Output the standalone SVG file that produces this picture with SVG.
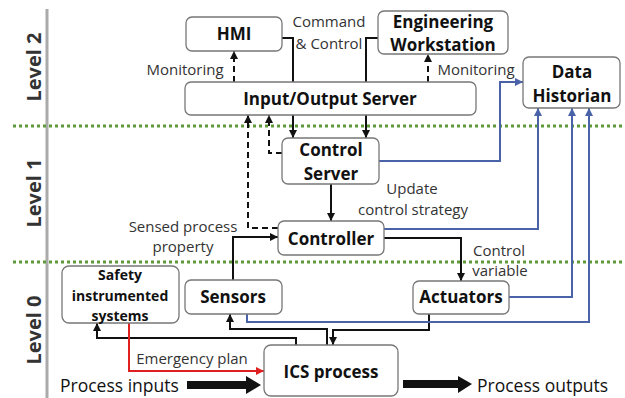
<svg xmlns="http://www.w3.org/2000/svg" width="625" height="398" viewBox="0 0 625 398">
<style>
.box{fill:#fff;stroke:#777;stroke-width:1.3}
.nl{font-family:"Open Sans","Noto Sans",sans-serif;font-weight:bold;font-size:17px;fill:#111;text-anchor:middle}
.sl{font-family:"Open Sans","Noto Sans",sans-serif;font-weight:bold;font-size:14px;fill:#111;text-anchor:middle}
.lb{font-family:"Open Sans","Noto Sans",sans-serif;font-size:15px;fill:#333;text-anchor:middle}
.big{font-family:"Open Sans","Noto Sans",sans-serif;font-size:17.5px;fill:#111}
.lv{font-family:"Open Sans","Noto Sans",sans-serif;font-weight:bold;font-size:20px;fill:#333;text-anchor:middle}
.k{fill:none;stroke:#111;stroke-width:2}
.kd{fill:none;stroke:#111;stroke-width:2;stroke-dasharray:6 4}
.b{fill:none;stroke:#4a62a8;stroke-width:2}
.r{fill:none;stroke:#e02020;stroke-width:2}
.grid{stroke:#5f9a3a;stroke-width:3;stroke-dasharray:3 3}
</style>
<defs>
<marker id="ak" viewBox="0 0 8 8" refX="8" refY="4" markerWidth="8" markerHeight="8" orient="auto" markerUnits="userSpaceOnUse"><path d="M0,0 L8,4 L0,8 z" fill="#111"/></marker>
<marker id="ab" viewBox="0 0 8 8" refX="8" refY="4" markerWidth="8" markerHeight="8" orient="auto" markerUnits="userSpaceOnUse"><path d="M0,0 L8,4 L0,8 z" fill="#4a62a8"/></marker>
<marker id="ar" viewBox="0 0 8 8" refX="8" refY="4" markerWidth="8" markerHeight="8" orient="auto" markerUnits="userSpaceOnUse"><path d="M0,0 L8,4 L0,8 z" fill="#e02020"/></marker>
</defs>
<rect width="625" height="398" fill="#fff"/>
<g id="levels">
<line x1="47" y1="9" x2="47" y2="398" stroke="#aaa" stroke-width="3"/>
<line class="grid" x1="13" y1="126" x2="625" y2="126"/>
<line class="grid" x1="13" y1="262" x2="625" y2="262"/>
<text class="lv" transform="translate(41,67) rotate(-90)">Level 2</text>
<text class="lv" transform="translate(41,193) rotate(-90)">Level 1</text>
<text class="lv" transform="translate(41,330) rotate(-90)">Level 0</text>
</g>
<g id="connectors">
<path class="k" d="M282,38 H293 V82"/>
<path class="k" d="M293,115 V138" marker-end="url(#ak)"/>
<path class="k" d="M378,38 H366 V82"/>
<path class="k" d="M366,115 V138" marker-end="url(#ak)"/>
<path class="kd" d="M234,82 V51" marker-end="url(#ak)"/>
<path class="kd" d="M428,82 V54" marker-end="url(#ak)"/>
<path class="kd" d="M282,153 H269 V115" marker-end="url(#ak)"/>
<path class="kd" d="M278,228 H248 V115" marker-end="url(#ak)"/>
<path class="k" d="M331,184 V221" marker-end="url(#ak)"/>
<path class="k" d="M233,280 V237 H278" marker-end="url(#ak)"/>
<path class="k" d="M384,238 H461 V281" marker-end="url(#ak)"/>
<path class="k" d="M296,345 V338 H97 V323" marker-end="url(#ak)"/>
<path class="k" d="M327,345 V329 H230 V314" marker-end="url(#ak)"/>
<path class="k" d="M429,314 V330 H333 V345" marker-end="url(#ak)"/>
<path class="r" d="M129,323 V371 H264" marker-end="url(#ar)"/>
<path class="b" d="M379,161 H500 V82 H523" marker-end="url(#ab)"/>
<path class="b" d="M384,229 H538 V108" marker-end="url(#ab)"/>
<path class="b" d="M509,297 H572 V108" marker-end="url(#ab)"/>
<path class="b" d="M247,314 V322 H589 V108" marker-end="url(#ab)"/>
<path d="M187,381 H246 V376 L261,385 L246,394 V389 H187 z" fill="#111"/>
<path d="M403,380 H458 V376 L472,384 L458,393 V388 H403 z" fill="#111"/>
</g>
<g id="labels">
<text class="lb" x="185" y="75">Monitoring</text>
<text class="lb" x="476" y="75">Monitoring</text>
<text class="lb" x="329" y="27">Command</text>
<text class="lb" x="329" y="49">&amp; Control</text>
<text class="lb" x="412" y="194">Update</text>
<text class="lb" x="413" y="215">control strategy</text>
<text class="lb" x="183" y="232">Sensed process</text>
<text class="lb" x="183" y="252">property</text>
<text class="lb" x="499" y="256">Control</text>
<text class="lb" x="500" y="276">variable</text>
<text class="lb" x="192" y="364">Emergency plan</text>
<text class="big" x="60" y="392">Process inputs</text>
<text class="big" x="477" y="392">Process outputs</text>
</g>
<g id="hmi"><rect class="box" x="186" y="17" width="96" height="34" rx="6"/><text class="nl" x="234" y="40">HMI</text></g>
<g id="ews"><rect class="box" x="378" y="11" width="130" height="43" rx="6"/><text class="nl" x="443" y="28">Engineering</text><text class="nl" x="443" y="51">Workstation</text></g>
<g id="ioserver"><rect class="box" x="185" y="82" width="291" height="33" rx="6"/><text class="nl" x="330" y="105">Input/Output Server</text></g>
<g id="historian"><rect class="box" x="523" y="57" width="97" height="51" rx="6"/><text class="nl" x="572" y="78">Data</text><text class="nl" x="572" y="102">Historian</text></g>
<g id="controlserver"><rect class="box" x="282" y="138" width="97" height="46" rx="6"/><text class="nl" x="331" y="156">Control</text><text class="nl" x="331" y="180">Server</text></g>
<g id="controller"><rect class="box" x="278" y="221" width="106" height="34" rx="6"/><text class="nl" x="331" y="245">Controller</text></g>
<g id="sis"><rect class="box" x="62" y="266" width="117" height="57" rx="7"/><text class="sl" x="120" y="280">Safety</text><text class="sl" x="120" y="301">instrumented</text><text class="sl" x="120" y="321">systems</text></g>
<g id="sensors"><rect class="box" x="185" y="280" width="97" height="34" rx="6"/><text class="nl" x="233" y="303">Sensors</text></g>
<g id="actuators"><rect class="box" x="413" y="281" width="96" height="33" rx="6"/><text class="nl" x="461" y="303">Actuators</text></g>
<g id="ics"><rect class="box" x="264" y="345" width="134" height="51" rx="7"/><text class="nl" x="331" y="378">ICS process</text></g>
</svg>
